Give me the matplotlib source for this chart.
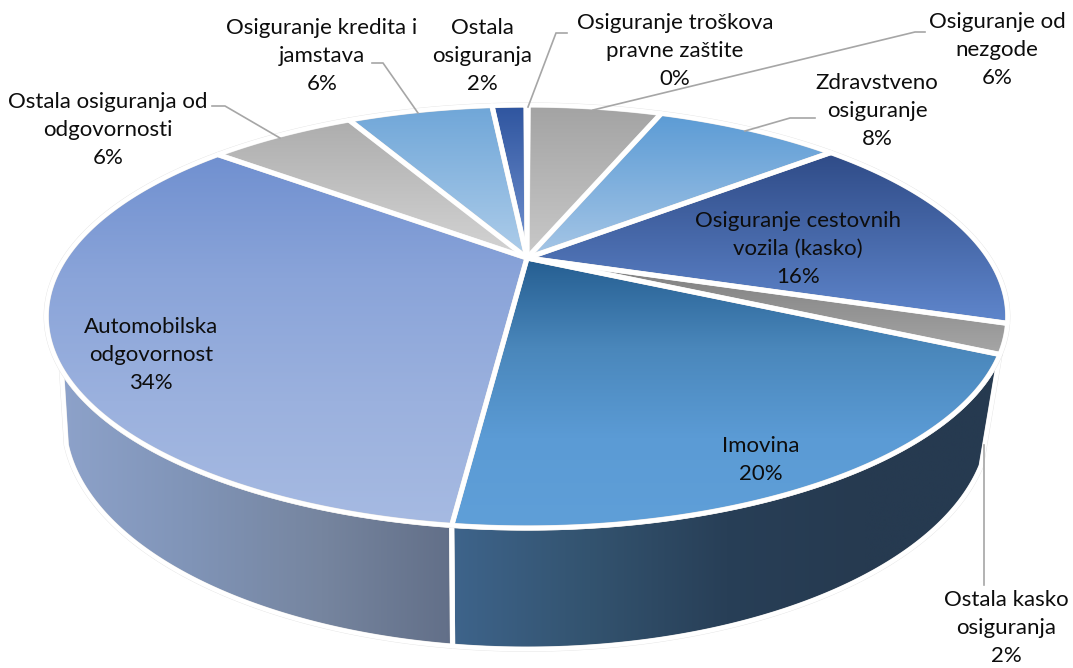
import numpy as np
import matplotlib
matplotlib.use("Agg")
import matplotlib.pyplot as plt
from matplotlib.patches import Polygon
from matplotlib.colors import LinearSegmentedColormap

# ---------- data ----------
names = ["Osiguranje od\nnezgode", "Zdravstveno\nosiguranje",
         "Osiguranje cestovnih\nvozila (kasko)", "Ostala kasko\nosiguranja",
         "Imovina", "Automobilska\nodgovornost",
         "Ostala osiguranja od\nodgovornosti", "Osiguranje kredita i\njamstava",
         "Ostala\nosiguranja", "Osiguranje troškova\npravne zaštite"]
shares = [5.9, 8.1, 15.9, 2.2, 19.73, 33.77, 6.4, 6.4, 1.5, 0.1]
percent_labels = ["6%", "8%", "16%", "2%", "20%", "34%", "6%", "6%", "2%", "0%"]

# ---------- styles ----------
top_colors = [("#a3a3a3", "#c9c9c9"), ("#5b9bd5", "#a6c6e6"), ("#2f4b87", "#5f86cc"),
              ("#7c7c7c", "#a6a6a6"), ("#255e91", "#4a87bb", "#5b9bd5", "#5f9fd8"),
              ("#7090d0", "#8aa4d9", "#9bb1de", "#a6bae2"),
              ("#adadad", "#d4d4d4"), ("#6fa6d8", "#aecdea"), ("#2f559f", "#7494d2"),
              ("#a5a5a5", "#a5a5a5")]
label_pos = [(997, 50), (877, 111), (798, 249), (1006, 628), (761, 460),
             (151, 355), (108, 130), (322, 56), (482, 56), (675, 51)]
leaders = [[(925, 32), (915, 32), (593, 110)],
           [(815, 118), (790, 118), (745, 131)],
           [(984, 445), (984, 585)],
           [(212, 106), (225, 106), (280, 138)],
           [(372, 63), (383, 63), (418, 113)],
           [(567, 33), (556, 33), (528, 107)]]

CX = 527
TOP = dict(a=462, y0=258, b=195.3, k=0.2766)
BOT = dict(a=442, y0=352, b=208, k=0.30)
STROKE = 4.5 * 72 / 100
FONT = "Lato"


def project(theta_deg, disc):
    t = np.radians(theta_deg)
    u, v = np.sin(t), np.cos(t)
    w = 1 + disc["k"] * v
    return CX + disc["a"] * u / w, disc["y0"] - disc["b"] * v / w


def arc(t0, t1, disc, n=120):
    x, y = project(np.linspace(t0, t1, n), disc)
    return np.column_stack([x, y])


fig = plt.figure(figsize=(10.73, 6.68), dpi=100)
ax = fig.add_axes([0, 0, 1, 1])
ax.axis("off")


def fill(points, stops, vertical, z):
    poly = Polygon(points, closed=True, fc="none", ec="none", transform=ax.transData)
    ax.add_patch(poly)
    x0, y0 = points.min(axis=0)
    x1, y1 = points.max(axis=0)
    cmap = LinearSegmentedColormap.from_list("g", stops)
    grad = np.linspace(0, 1, 256)
    grad = grad[:, None] if vertical else grad[None, :]
    im = ax.imshow(grad, cmap=cmap, vmin=0, vmax=1, aspect="auto", origin="upper",
                   extent=(x0, x1, y1, y0), zorder=z, interpolation="bilinear")
    im.set_clip_path(poly)
    return points


def stroke(points, z):
    ax.add_patch(Polygon(points, closed=True, fc="none", ec="#e2e2e2", lw=STROKE + 0.5,
                         zorder=z - 0.5, joinstyle="round"))
    ax.add_patch(Polygon(points, closed=True, fc="none", ec="white", lw=STROKE,
                         zorder=z, joinstyle="round"))


edges = np.concatenate([[0.0], np.cumsum(shares)]) * 3.6 + 0.2

# side walls
imov_start, imov_end = edges[4], edges[5]
auto_end_sil = 240.5
wall_imov = np.vstack([arc(imov_start, imov_end, TOP), arc(imov_end, 118.0, BOT)])
wall_auto = np.vstack([arc(imov_end, auto_end_sil, TOP), arc(246.8, imov_end, BOT)])
fill(wall_imov, ["#3e648b", "#33536f", "#283f57", "#263a50", "#263a50"], False, 1)
fill(wall_auto, ["#8da2ca", "#8094b7", "#76859f", "#626f88"], False, 1)
stroke(wall_imov, 2)
stroke(wall_auto, 2)

# top face
for i, share in enumerate(shares):
    if share < 0.5:
        continue
    pts = np.vstack([[[CX, TOP["y0"]]], arc(edges[i], edges[i + 1], TOP)])
    fill(pts, list(top_colors[i]), True, 3)
    stroke(pts, 4)

# leader lines
for line in leaders:
    xs, ys = zip(*line)
    ax.plot(xs, ys, color="#a6a6a6", lw=1.2, zorder=5, solid_joinstyle="miter")

# labels
for name, pct, (x, y) in zip(names, percent_labels, label_pos):
    ax.text(x, y, f"{name}\n{pct}", ha="center", va="center", ma="center",
            fontsize=16, family=FONT, color="#0d0d0d", linespacing=1.5, zorder=6)

ax.set_xlim(0, 1073)
ax.set_ylim(668, 0)
fig.savefig("out.png", dpi=100, facecolor="white")
